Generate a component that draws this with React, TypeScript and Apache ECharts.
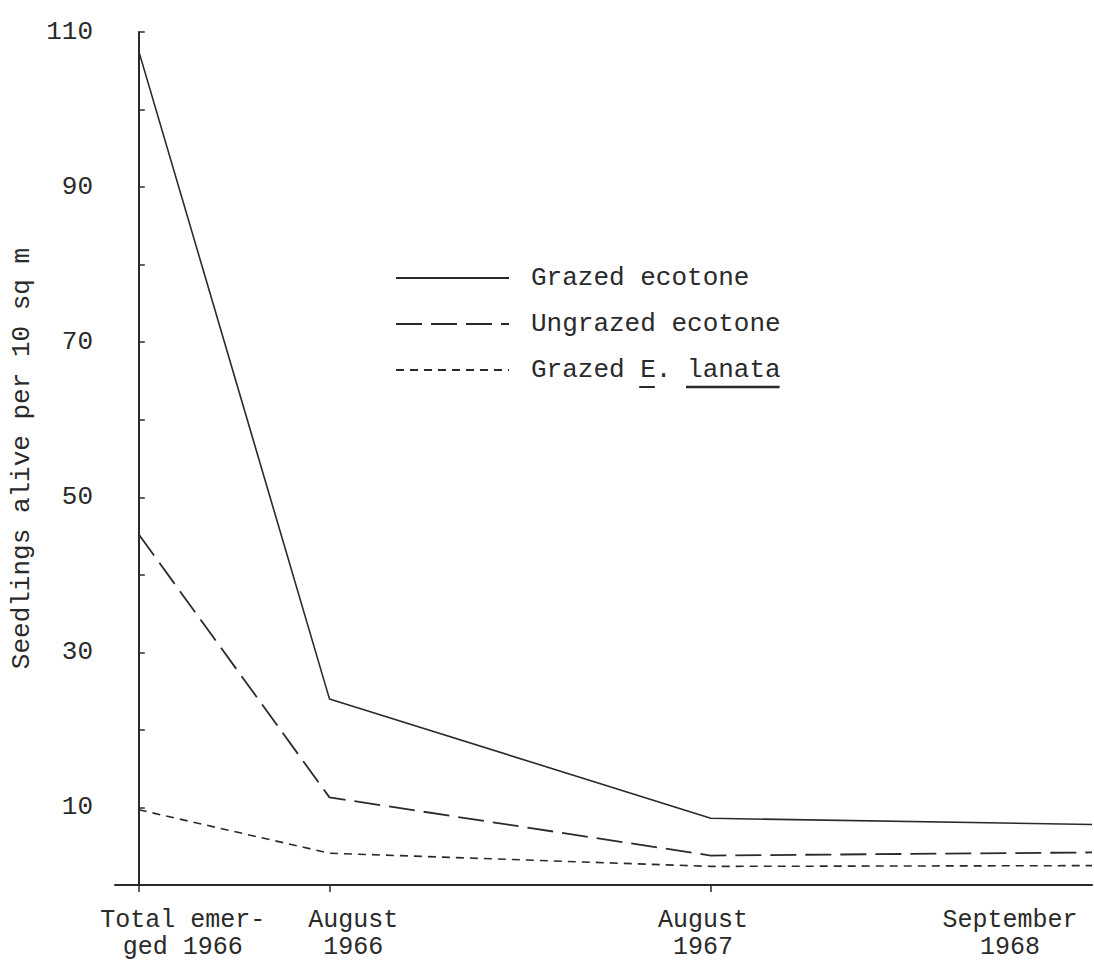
import React, { useEffect, useRef } from "react";
import * as echarts from "echarts";

// ---- data ----
const xPositions = [0, 1, 3, 5];
const xTickLabels = ["Total emer-\nged 1966", "August\n1966", "August\n1967", "September\n1968"];
const xLabelPositions = [0.23, 1.125, 2.96, 4.57];
const xTickPositions = [0, 1, 3];
const seriesNames = ["Grazed ecotone", "Ungrazed ecotone", "Grazed E. lanata"];
const grazedEcotone = [107.5, 24, 8.6, 7.8];
const ungrazedEcotone = [45.2, 11.3, 3.8, 4.2];
const grazedLanata = [9.7, 4.1, 2.4, 2.5];
const yLabelValues = [10, 30, 50, 70, 90, 110];

const FONT = '"Liberation Mono", "DejaVu Sans Mono", monospace';
const INK = "#2a2a2a";
const LEGEND_LEFT = 395;
const LEGEND_TOP = 265;
const ROW = 46;
const LEGEND_ICON_W = 113;
const LEGEND_TEXT_PAD = 17;

export default function App() {
  const ref = useRef<HTMLDivElement>(null);
  useEffect(() => {
    if (!ref.current) return;
    const chart = echarts.init(ref.current, undefined, { renderer: "svg" });
    const toPairs = (arr: number[]) => xPositions.map((x, i) => [x, arr[i]]);
    const textX = LEGEND_LEFT + LEGEND_ICON_W + 5 + LEGEND_TEXT_PAD;
    const cw = 26 * 0.6;
    const ulY = LEGEND_TOP + 2 * ROW + 13 + 17;
    chart.setOption({
      animation: false,
      backgroundColor: "#ffffff",
      color: [INK, INK, INK],
      grid: { left: 115, right: 2, top: 32, bottom: 77, containLabel: false },
      legend: {
        orient: "vertical",
        left: LEGEND_LEFT,
        top: LEGEND_TOP,
        padding: 0,
        itemWidth: LEGEND_ICON_W,
        itemHeight: 26,
        itemGap: ROW - 26,
        selectedMode: false,
        data: seriesNames,
        itemStyle: { opacity: 0 },
        textStyle: {
          fontFamily: FONT,
          fontSize: 26,
          color: INK,
          lineHeight: 26,
          padding: [0, 0, 0, LEGEND_TEXT_PAD],
        },
      },
      xAxis: {
        type: "value",
        min: -0.125,
        max: 5,
        splitLine: { show: false },
        axisLine: { show: true, onZero: false, lineStyle: { color: INK, width: 2 } },
        axisTick: {
          show: true,
          inside: false,
          length: 7,
          customValues: xTickPositions,
          lineStyle: { color: INK, width: 1.5 },
        },
        axisLabel: {
          customValues: xLabelPositions,
          formatter: (v: number) => {
            let best = 0;
            xLabelPositions.forEach((p, i) => {
              if (Math.abs(p - v) < Math.abs(xLabelPositions[best] - v)) best = i;
            });
            return xTickLabels[best];
          },
          fontFamily: FONT,
          fontSize: 25,
          lineHeight: 27,
          color: INK,
          margin: 22,
        },
      },
      yAxis: {
        type: "value",
        min: 0,
        max: 110,
        interval: 10,
        name: "Seedlings alive per 10 sq m",
        nameLocation: "middle",
        nameGap: 72,
        nameRotate: 90,
        nameTextStyle: { fontFamily: FONT, fontSize: 26, color: INK },
        splitLine: { show: false },
        axisLine: { show: true, lineStyle: { color: INK, width: 2 } },
        axisTick: { show: true, inside: true, length: 6, lineStyle: { color: INK, width: 1.5 } },
        axisLabel: {
          formatter: (v: number) => (yLabelValues.includes(v) ? String(v) : ""),
          fontFamily: FONT,
          fontSize: 26,
          color: INK,
          margin: 22,
          padding: [0, 0, 10, 0],
        },
      },
      series: [
        {
          name: seriesNames[0],
          type: "line",
          symbol: "none",
          data: toPairs(grazedEcotone),
          itemStyle: { color: INK },
          lineStyle: { color: INK, width: 1.6, type: "solid" },
        },
        {
          name: seriesNames[1],
          type: "line",
          symbol: "none",
          data: toPairs(ungrazedEcotone),
          itemStyle: { color: INK },
          lineStyle: { color: INK, width: 1.8, type: [26, 9] },
        },
        {
          name: seriesNames[2],
          type: "line",
          symbol: "none",
          data: toPairs(grazedLanata),
          itemStyle: { color: INK },
          lineStyle: { color: INK, width: 1.6, type: [8, 6] },
        },
      ],
      graphic: [
        {
          type: "line",
          shape: { x1: textX + 7 * cw, y1: ulY, x2: textX + 8 * cw, y2: ulY },
          style: { stroke: INK, lineWidth: 2 },
        },
        {
          type: "line",
          shape: { x1: textX + 10 * cw, y1: ulY, x2: textX + 16 * cw, y2: ulY },
          style: { stroke: INK, lineWidth: 2.5 },
        },
      ],
    });
    return () => chart.dispose();
  }, []);
  return (
    <div
      ref={ref}
      style={{ position: "absolute", left: 0, top: 0, width: 1094, height: 962, background: "#fff" }}
    />
  );
}
